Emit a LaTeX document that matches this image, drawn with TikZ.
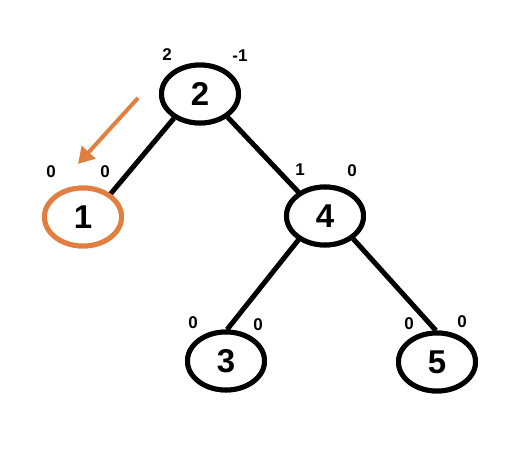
\documentclass[tikz,border=0pt]{standalone}
\usepackage{fontspec}
\setmainfont{Liberation Sans}
\usetikzlibrary{arrows.meta,shapes.geometric}
\definecolor{orng}{RGB}{226,126,62}
\begin{document}
\begin{tikzpicture}[x=1pt,y=-1pt,
  tnode/.style={draw=black,line width=5pt,ellipse,minimum width=77pt,minimum height=58pt,inner sep=0pt,font=\fontsize{33}{35}\selectfont\bfseries,fill=white},
  bal/.style={font=\fontsize{17}{18}\selectfont\bfseries,inner sep=0pt},
  edge/.style={line width=5pt}]
\useasboundingbox (0,0) rectangle (522,457);
\node[tnode] (n2) at (200,94) {2};
\node[tnode,draw=orng] (n1) at (83,217) {1};
\node[tnode] (n4) at (325,216) {4};
\node[tnode] (n3) at (226,361) {3};
\node[tnode] (n5) at (437,362) {5};
\draw[edge] (n2.223) -- (n1.40);
\draw[edge] (n2.320) -- (n4.138);
\draw[edge] (n4.222) -- (n3.88);
\draw[edge] (n4.321) -- (n5.92);
\node[tnode] at (n2) {2};
\node[tnode,draw=orng] at (n1) {1};
\node[tnode] at (n4) {4};
\node[tnode] at (n3) {3};
\node[tnode] at (n5) {5};
\node[bal] (b2l) at (167,55) {2};
\node[bal] (b2r) at (240,56) {-1};
\node[bal] (b1l) at (51,172) {0};
\node[bal] (b1r) at (105,172) {0};
\node[bal] (b4l) at (300,170) {1};
\node[bal] (b4r) at (352,171) {0};
\node[bal] (b3l) at (193,323) {0};
\node[bal] (b3r) at (258,325) {0};
\node[bal] (b5l) at (409,324) {0};
\node[bal] (b5r) at (462,322) {0};
\coordinate (at) at (138,98);
\coordinate (ah) at (78,164);
\draw[orng,line width=4pt,-{Triangle[length=16pt,width=18pt]}] (at) -- (ah);
\end{tikzpicture}
\end{document}
